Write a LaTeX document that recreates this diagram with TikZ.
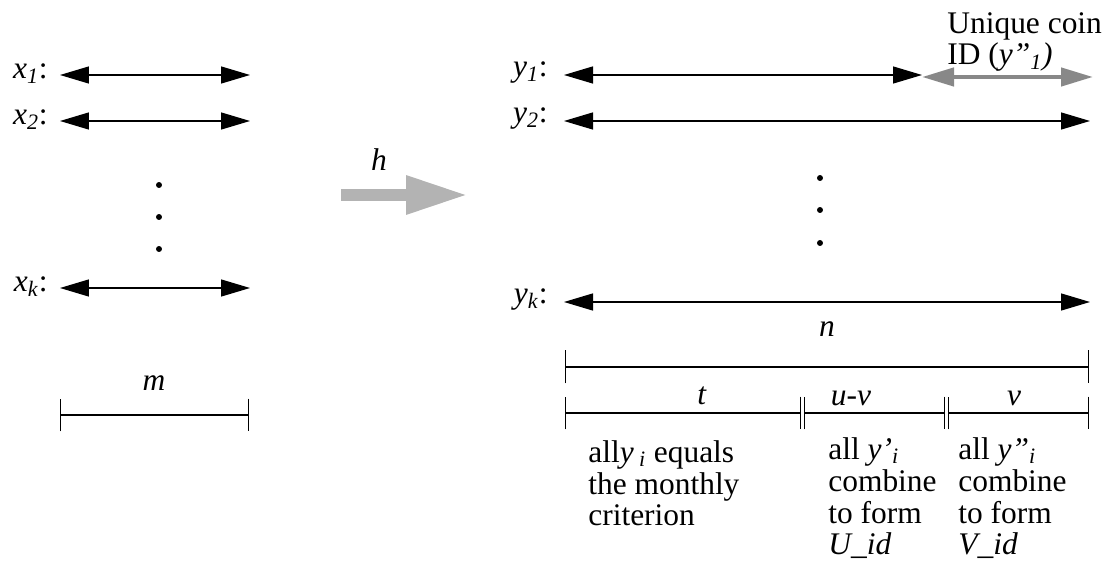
\documentclass[tikz,border=0pt]{standalone}
\usepackage{fontspec}
\setmainfont{Liberation Serif}
\usetikzlibrary{arrows.meta}
\definecolor{idgray}{HTML}{888888}
\definecolor{hgray}{HTML}{B3B3B3}
\newcommand{\sbi}[1]{\textsubscript{\textit{#1}}}
\newcommand{\lblfont}{\fontsize{17.9}{18.2}\selectfont\lineskiplimit=-20pt\relax}

\begin{document}
\begin{tikzpicture}[x=0.02cm,y=-0.02cm,
  lbl/.style={inner sep=0pt,font=\lblfont},
  txt/.style={lbl,align=left,anchor=base west},
  dbl/.style={line width=0.75pt,{Triangle[length=0.58cm,width=0.34cm]}-{Triangle[length=0.58cm,width=0.34cm]}},
  idarr/.style={idgray,line width=2.5pt,{Triangle[length=0.64cm,width=0.36cm]}-{Triangle[length=0.64cm,width=0.36cm]}},
  dim/.style={line width=0.75pt,{Bar[width=0.66cm]}-{Bar[width=0.66cm]}}]
\useasboundingbox (0,0) rectangle (1116,563);
% left side: x_1 ... x_k
\coordinate (xl1) at (60,75);  \coordinate (xr1) at (250,75);
\coordinate (xl2) at (60,121); \coordinate (xr2) at (250,121);
\coordinate (xlk) at (60,288); \coordinate (xrk) at (250,288);
\draw[dbl] (xl1)--(xr1);
\draw[dbl] (xl2)--(xr2);
\draw[dbl] (xlk)--(xrk);
\node[lbl,anchor=base east] (x1) at (48,79){\textit{x}\sbi{1}:};
\node[lbl,anchor=base east] (x2) at (48,125){\textit{x}\sbi{2}:};
\node[lbl,anchor=base east] (xk) at (48,292){\textit{x}\sbi{k}:};
\foreach \yy in {185,217,249} \fill (159,\yy) circle[radius=1.7pt];
\coordinate (ml) at (60,415); \coordinate (mr) at (249,415);
\draw[dim] (ml)--(mr);
\node[lbl,anchor=base] (m) at (154,391){\textit{m}};
% the map h
\coordinate (ha) at (341,195); \coordinate (hb) at (468,195);
\draw[hgray,line width=0.24cm,-{Triangle[length=1.24cm,width=0.72cm]}] (ha)--(hb);
\node[lbl,anchor=base] (h) at (379,171){\textit{h}};
% right side: y_1 ... y_k
\coordinate (yl1) at (564,75);  \coordinate (yr1) at (922,75);
\coordinate (idl) at (922,77);  \coordinate (idr) at (1093,77);
\coordinate (yl2) at (564,121); \coordinate (yr2) at (1090,121);
\coordinate (ylk) at (564,302); \coordinate (yrk) at (1090,302);
\draw[dbl] (yl1)--(yr1);
\draw[idarr] (idl)--(idr);
\draw[dbl] (yl2)--(yr2);
\draw[dbl] (ylk)--(yrk);
\node[lbl,anchor=base east] (y1) at (548,77){\textit{y}\sbi{1}:};
\node[lbl,anchor=base east] (y2) at (548,123){\textit{y}\sbi{2}:};
\node[lbl,anchor=base east] (yk) at (548,304){\textit{y}\sbi{k}:};
\node[txt] (coin) at (947,65){Unique coin\\ID (\textit{y”}\sbi{1}\textit{)}};
\foreach \yy in {178,210,243} \fill (820,\yy) circle[radius=1.7pt];
% lengths
\coordinate (nl) at (565,367); \coordinate (nr) at (1089,367);
\draw[dim] (nl)--(nr);
\node[lbl,anchor=base] (n) at (827,337){\textit{n}};
\coordinate (tl) at (565,413); \coordinate (tr) at (801,413);
\coordinate (ul) at (804,413); \coordinate (ur) at (945,413);
\coordinate (vl) at (948,413); \coordinate (vr) at (1089,413);
\draw[dim] (tl)--(tr);
\draw[dim] (ul)--(ur);
\draw[dim] (vl)--(vr);
\node[lbl,anchor=base] (t) at (702,405){\textit{t}};
\node[lbl,anchor=base] (uv) at (851,406){\textit{u-v}};
\node[lbl,anchor=base] (v) at (1014,406){\textit{v}};
\node[txt] (tdesc) at (588,526){all\textit{y}\,\sbi{i} equals\\the monthly\\criterion};
\node[txt] (udesc) at (828,555){all \textit{y’}\sbi{i}\\combine\\to form\\\textit{U\_id}};
\node[txt] (vdesc) at (958,555){all \textit{y”}\sbi{i}\\combine\\to form\\\textit{V\_id}};
\end{tikzpicture}
\end{document}
